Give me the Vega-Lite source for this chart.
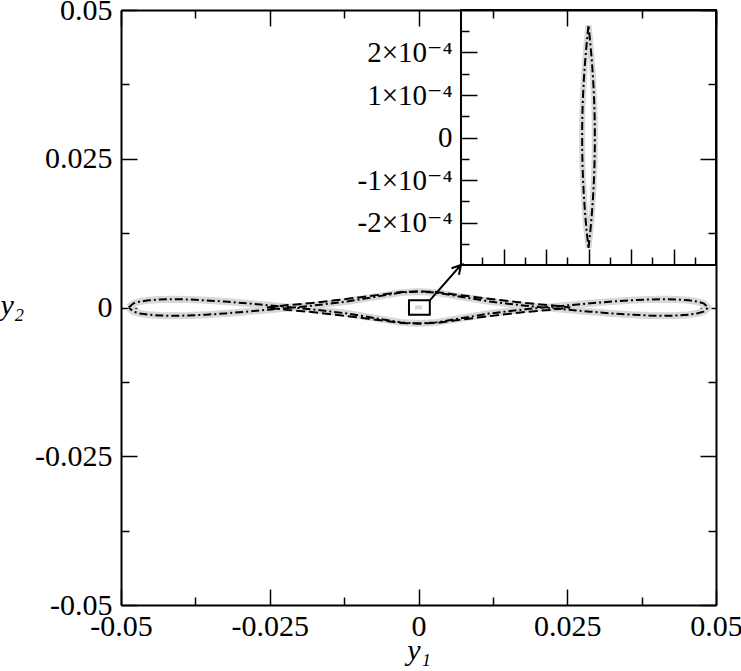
{
  "$schema": "https://vega.github.io/schema/vega-lite/v6.json",
  "width": 595,
  "height": 595,
  "autosize": {"type": "none"},
  "padding": {"left": 121, "top": 10, "right": 25, "bottom": 66},
  "background": "white",
  "config": {
    "view": {"stroke": null},
    "axis": {
      "grid": false,
      "labelFont": "Times New Roman, Liberation Serif, DejaVu Serif, serif",
      "titleFont": "Times New Roman, Liberation Serif, DejaVu Serif, serif",
      "labelColor": "black",
      "titleColor": "black",
      "tickColor": "black",
      "domainColor": "black",
      "labelFlush": false,
      "labelOverlap": false,
      "labelBound": false,
      "zindex": 1
    }
  },
  "datasets": {
    "chain": [
      {"y1": -0.0487, "y2": 0}, {"y1": -0.0479, "y2": 0.0007}, {"y1": -0.0468, "y2": 0.001}, {"y1": -0.0454, "y2": 0.0012}, {"y1": -0.0435, "y2": 0.00135}, {"y1": -0.0413, "y2": 0.0014}, {"y1": -0.0387, "y2": 0.00135}, {"y1": -0.0357, "y2": 0.0012}, {"y1": -0.0325, "y2": 0.001}, {"y1": -0.0289, "y2": 0.0007}, {"y1": -0.0251, "y2": 0.00036}, {"y1": -0.021, "y2": 0},
      {"y1": -0.018, "y2": -0.0003}, {"y1": -0.015, "y2": -0.00065}, {"y1": -0.012, "y2": -0.001}, {"y1": -0.009, "y2": -0.0015}, {"y1": -0.006, "y2": -0.002}, {"y1": -0.003, "y2": -0.0025}, {"y1": 0, "y2": -0.0027}, {"y1": 0.003, "y2": -0.0025}, {"y1": 0.006, "y2": -0.002}, {"y1": 0.009, "y2": -0.0015}, {"y1": 0.012, "y2": -0.001}, {"y1": 0.015, "y2": -0.00065}, {"y1": 0.018, "y2": -0.0003}, {"y1": 0.021, "y2": 0},
      {"y1": 0.0251, "y2": 0.00036}, {"y1": 0.0289, "y2": 0.0007}, {"y1": 0.0325, "y2": 0.001}, {"y1": 0.0357, "y2": 0.0012}, {"y1": 0.0387, "y2": 0.00135}, {"y1": 0.0413, "y2": 0.0014}, {"y1": 0.0435, "y2": 0.00135}, {"y1": 0.0454, "y2": 0.0012}, {"y1": 0.0468, "y2": 0.001}, {"y1": 0.0479, "y2": 0.0007}, {"y1": 0.0487, "y2": 0},
      {"y1": 0.0479, "y2": -0.0007}, {"y1": 0.0468, "y2": -0.001}, {"y1": 0.0454, "y2": -0.0012}, {"y1": 0.0435, "y2": -0.00135}, {"y1": 0.0413, "y2": -0.0014}, {"y1": 0.0387, "y2": -0.00135}, {"y1": 0.0357, "y2": -0.0012}, {"y1": 0.0325, "y2": -0.001}, {"y1": 0.0289, "y2": -0.0007}, {"y1": 0.0251, "y2": -0.00036}, {"y1": 0.021, "y2": 0},
      {"y1": 0.018, "y2": 0.0003}, {"y1": 0.015, "y2": 0.00065}, {"y1": 0.012, "y2": 0.001}, {"y1": 0.009, "y2": 0.0015}, {"y1": 0.006, "y2": 0.002}, {"y1": 0.003, "y2": 0.0025}, {"y1": 0, "y2": 0.0027}, {"y1": -0.003, "y2": 0.0025}, {"y1": -0.006, "y2": 0.002}, {"y1": -0.009, "y2": 0.0015}, {"y1": -0.012, "y2": 0.001}, {"y1": -0.015, "y2": 0.00065}, {"y1": -0.018, "y2": 0.0003}, {"y1": -0.021, "y2": 0},
      {"y1": -0.0251, "y2": -0.00036}, {"y1": -0.0289, "y2": -0.0007}, {"y1": -0.0325, "y2": -0.001}, {"y1": -0.0357, "y2": -0.0012}, {"y1": -0.0387, "y2": -0.00135}, {"y1": -0.0413, "y2": -0.0014}, {"y1": -0.0435, "y2": -0.00135}, {"y1": -0.0454, "y2": -0.0012}, {"y1": -0.0468, "y2": -0.001}, {"y1": -0.0479, "y2": -0.0007}, {"y1": -0.0487, "y2": 0}
    ],
    "center": [
      {"y1": -0.0255, "y2": 0}, {"y1": -0.022, "y2": 0.0004}, {"y1": -0.018, "y2": 0.00075}, {"y1": -0.014, "y2": 0.0012}, {"y1": -0.01, "y2": 0.0017}, {"y1": -0.006, "y2": 0.0022}, {"y1": -0.003, "y2": 0.0026}, {"y1": 0, "y2": 0.0027}, {"y1": 0.003, "y2": 0.0026}, {"y1": 0.006, "y2": 0.0022}, {"y1": 0.01, "y2": 0.0017}, {"y1": 0.014, "y2": 0.0012}, {"y1": 0.018, "y2": 0.00075}, {"y1": 0.022, "y2": 0.0004}, {"y1": 0.0255, "y2": 0},
      {"y1": 0.022, "y2": -0.0004}, {"y1": 0.018, "y2": -0.00075}, {"y1": 0.014, "y2": -0.0012}, {"y1": 0.01, "y2": -0.0017}, {"y1": 0.006, "y2": -0.0022}, {"y1": 0.003, "y2": -0.0026}, {"y1": 0, "y2": -0.0027}, {"y1": -0.003, "y2": -0.0026}, {"y1": -0.006, "y2": -0.0022}, {"y1": -0.01, "y2": -0.0017}, {"y1": -0.014, "y2": -0.0012}, {"y1": -0.018, "y2": -0.00075}, {"y1": -0.022, "y2": -0.0004}, {"y1": -0.0255, "y2": 0}
    ],
    "lens": [
      {"y1": 0, "y2": -0.00026}, {"y1": 0.0000044, "y2": -0.00022}, {"y1": 0.0000079, "y2": -0.00018}, {"y1": 0.0000107, "y2": -0.00014}, {"y1": 0.0000128, "y2": -0.0001}, {"y1": 0.0000142, "y2": -0.00006}, {"y1": 0.0000149, "y2": -0.00002}, {"y1": 0.0000149, "y2": 0.00002}, {"y1": 0.0000142, "y2": 0.00006}, {"y1": 0.0000128, "y2": 0.0001}, {"y1": 0.0000107, "y2": 0.00014}, {"y1": 0.0000079, "y2": 0.00018}, {"y1": 0.0000044, "y2": 0.00022}, {"y1": 0, "y2": 0.000264},
      {"y1": -0.0000044, "y2": 0.00022}, {"y1": -0.0000079, "y2": 0.00018}, {"y1": -0.0000107, "y2": 0.00014}, {"y1": -0.0000128, "y2": 0.0001}, {"y1": -0.0000142, "y2": 0.00006}, {"y1": -0.0000149, "y2": 0.00002}, {"y1": -0.0000149, "y2": -0.00002}, {"y1": -0.0000142, "y2": -0.00006}, {"y1": -0.0000128, "y2": -0.0001}, {"y1": -0.0000107, "y2": -0.00014}, {"y1": -0.0000079, "y2": -0.00018}, {"y1": -0.0000044, "y2": -0.00022}, {"y1": 0, "y2": -0.00026}
    ],
    "box": [{"x": -0.0016, "x2": 0.0019, "y": -0.0012, "y2": 0.0012}],
    "frame": [{"x": 0.00714, "x2": 0.05, "y": 0.00714, "y2": 0.05}],
    "arrow": [
      {"y1": 0.0019, "y2": 0.0012}, {"y1": 0.00714, "y2": 0.00714}, {"y1": 0.00555, "y2": 0.0066}, {"y1": 0.00714, "y2": 0.00714}, {"y1": 0.0068, "y2": 0.0055}
    ]
  },
  "resolve": {"scale": {"x": "independent", "y": "independent"}, "axis": {"x": "independent", "y": "independent"}},
  "layer": [
    {
      "data": {"name": "chain"},
      "mark": {"type": "line", "color": "#d8d8d8", "strokeWidth": 7, "interpolate": "linear", "strokeJoin": "round"},
      "encoding": {
        "x": {"field": "y1", "type": "quantitative", "scale": {"domain": [-0.05, 0.05], "nice": false, "zero": false},
          "axis": {"orient": "bottom", "values": [-0.05, -0.025, 0, 0.025, 0.05], "labelExpr": "'' + datum.value", "tickSize": -16, "tickWidth": 1.5, "domainWidth": 2, "labelFontSize": 30, "labelPadding": 22, "labelBaseline": "top", "title": "y₁", "titleFontSize": 30, "titleFontStyle": "italic", "titleFontWeight": "normal", "titleBaseline": "alphabetic", "titleY": 54}},
        "y": {"field": "y2", "type": "quantitative", "scale": {"domain": [-0.05, 0.05], "nice": false, "zero": false},
          "axis": {"orient": "left", "values": [-0.05, -0.025, 0, 0.025, 0.05], "labelExpr": "'' + datum.value", "tickSize": -16, "tickWidth": 1.5, "domainWidth": 2, "labelFontSize": 30, "labelPadding": 25, "title": "y₂", "titleFontSize": 30, "titleFontStyle": "italic", "titleFontWeight": "normal", "titleAngle": 0, "titleAlign": "left", "titleBaseline": "alphabetic", "titleX": -121, "titleY": 304}},
        "order": {"value": null}
      }
    },
    {
      "data": {"name": "chain"},
      "mark": {"type": "line", "color": "black", "strokeWidth": 2, "strokeDash": [8, 3, 2, 3], "interpolate": "linear"},
      "encoding": {
        "x": {"field": "y1", "type": "quantitative", "scale": {"domain": [-0.05, 0.05], "nice": false, "zero": false},
          "axis": {"orient": "bottom", "values": [-0.0375, -0.0125, 0.0125, 0.0375], "labels": false, "domain": false, "tickSize": -8, "tickWidth": 1.5, "title": null}},
        "y": {"field": "y2", "type": "quantitative", "scale": {"domain": [-0.05, 0.05], "nice": false, "zero": false},
          "axis": {"orient": "left", "values": [-0.0375, -0.0125, 0.0125, 0.0375], "labels": false, "domain": false, "tickSize": -8, "tickWidth": 1.5, "title": null}},
        "order": {"value": null}
      }
    },
    {
      "data": {"name": "center"},
      "mark": {"type": "line", "color": "black", "strokeWidth": 2, "strokeDash": [9, 4], "interpolate": "linear"},
      "encoding": {
        "x": {"field": "y1", "type": "quantitative", "scale": {"domain": [-0.05, 0.05], "nice": false, "zero": false},
          "axis": {"orient": "top", "values": [-0.05, -0.025, 0, 0.025, 0.05], "labels": false, "tickSize": -16, "tickWidth": 1.5, "domainWidth": 2, "title": null}},
        "y": {"field": "y2", "type": "quantitative", "scale": {"domain": [-0.05, 0.05], "nice": false, "zero": false},
          "axis": {"orient": "right", "values": [-0.05, -0.025, 0, 0.025, 0.05], "labels": false, "tickSize": -16, "tickWidth": 1.5, "domainWidth": 2, "title": null}},
        "order": {"value": null}
      }
    },
    {
      "data": {"name": "lens"},
      "mark": {"type": "line", "color": "#d8d8d8", "strokeWidth": 7, "interpolate": "linear"},
      "encoding": {
        "x": {"field": "y1", "type": "quantitative", "scale": {"domain": [-0.05, 0.05], "nice": false, "zero": false},
          "axis": {"orient": "top", "values": [-0.0375, -0.0125, 0.0125, 0.0375], "labels": false, "domain": false, "tickSize": -8, "tickWidth": 1.5, "title": null}},
        "y": {"field": "y2", "type": "quantitative", "scale": {"domain": [-0.05, 0.05], "nice": false, "zero": false},
          "axis": {"orient": "right", "values": [-0.0375, -0.0125, 0.0125, 0.0375], "labels": false, "domain": false, "tickSize": -8, "tickWidth": 1.5, "title": null}},
        "order": {"value": null}
      }
    },
    {
      "data": {"name": "box"},
      "mark": {"type": "rect", "fill": null, "fillOpacity": 0, "stroke": "black", "strokeWidth": 2},
      "encoding": {
        "x": {"field": "x", "type": "quantitative", "scale": {"domain": [-0.05, 0.05], "nice": false, "zero": false}, "axis": null},
        "x2": {"field": "x2"},
        "y": {"field": "y", "type": "quantitative", "scale": {"domain": [-0.05, 0.05], "nice": false, "zero": false}, "axis": null},
        "y2": {"field": "y2"}
      }
    },
    {
      "data": {"name": "arrow"},
      "mark": {"type": "line", "color": "black", "strokeWidth": 2, "interpolate": "linear"},
      "encoding": {
        "x": {"field": "y1", "type": "quantitative", "scale": {"domain": [-0.05, 0.05], "nice": false, "zero": false}, "axis": null},
        "y": {"field": "y2", "type": "quantitative", "scale": {"domain": [-0.05, 0.05], "nice": false, "zero": false}, "axis": null},
        "order": {"value": null}
      }
    },
    {
      "data": {"name": "frame"},
      "mark": {"type": "rect", "fill": null, "fillOpacity": 0, "stroke": "black", "strokeWidth": 2},
      "encoding": {
        "x": {"field": "x", "type": "quantitative", "scale": {"domain": [-0.05, 0.05], "nice": false, "zero": false}, "axis": null},
        "x2": {"field": "x2"},
        "y": {"field": "y", "type": "quantitative", "scale": {"domain": [-0.05, 0.05], "nice": false, "zero": false}, "axis": null},
        "y2": {"field": "y2"}
      }
    },
    {
      "data": {"name": "lens"},
      "mark": {"type": "line", "color": "#d8d8d8", "strokeWidth": 6, "interpolate": "linear"},
      "encoding": {
        "x": {"field": "y1", "type": "quantitative", "scale": {"domain": [-0.0003, 0.0003], "range": [340, 595], "nice": false, "zero": false},
          "axis": {"orient": "bottom", "offset": -340, "values": [-0.0002, -0.0001, 0, 0.0001, 0.0002], "labels": false, "domain": false, "tickSize": -16, "tickWidth": 1.5, "title": null}},
        "y": {"field": "y2", "type": "quantitative", "scale": {"domain": [-0.0003, 0.0003], "range": [255, 0], "nice": false, "zero": false},
          "axis": {"orient": "left", "offset": -340, "values": [-0.0002, -0.0001, 0, 0.0001, 0.0002], "labelExpr": "datum.value == 0 ? '0' : (datum.value < 0 ? '-' : '') + round(abs(datum.value) * 10000) + '×10⁻⁴'", "labelFontSize": 29, "labelPadding": 25, "domain": false, "tickSize": -16, "tickWidth": 1.5, "title": null}},
        "order": {"value": null}
      }
    },
    {
      "data": {"name": "lens"},
      "mark": {"type": "line", "color": "black", "strokeWidth": 2, "strokeDash": [8, 3, 2, 3], "interpolate": "linear"},
      "encoding": {
        "x": {"field": "y1", "type": "quantitative", "scale": {"domain": [-0.0003, 0.0003], "range": [340, 595], "nice": false, "zero": false},
          "axis": {"orient": "bottom", "offset": -340, "values": [-0.00025, -0.00015, -0.00005, 0.00005, 0.00015, 0.00025], "labels": false, "domain": false, "tickSize": -8, "tickWidth": 1.5, "title": null}},
        "y": {"field": "y2", "type": "quantitative", "scale": {"domain": [-0.0003, 0.0003], "range": [255, 0], "nice": false, "zero": false},
          "axis": {"orient": "left", "offset": -340, "values": [-0.00025, -0.00015, -0.00005, 0.00005, 0.00015, 0.00025], "labels": false, "domain": false, "tickSize": -8, "tickWidth": 1.5, "title": null}},
        "order": {"value": null}
      }
    }
  ]
}
